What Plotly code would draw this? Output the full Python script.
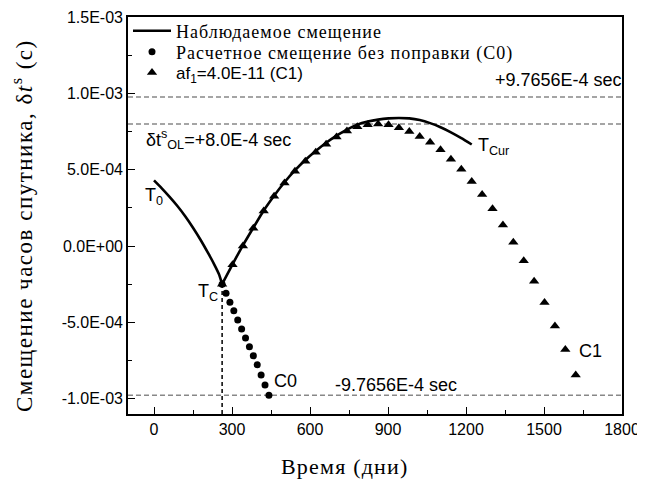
import plotly.graph_objects as go

# ---------------- data (offsets in units of 1e-4 s, time in days) ----------------
UNIT = 1e-4

obs_seg1_days = [0, 30, 60, 90, 120, 150, 180, 210, 230, 250, 262]
obs_seg1_off = [4.30, 3.78, 3.22, 2.62, 1.95, 1.20, 0.38, -0.52, -1.15, -1.85, -2.50]

obs_seg2_days = [262, 302, 342, 382, 422, 462, 502, 542, 582, 622, 662, 702, 742,
                 782, 822, 862, 902, 942, 982, 1022, 1062, 1102, 1142, 1182, 1222]
obs_seg2_off = [-2.50, -1.20, 0.05, 1.20, 2.33, 3.30, 4.18, 4.95, 5.63, 6.22, 6.76,
                7.23, 7.63, 7.95, 8.15, 8.28, 8.36, 8.39, 8.36, 8.25, 8.05, 7.78,
                7.45, 7.07, 6.65]

c0_days = [262, 277, 292, 307, 322, 337, 352, 367, 382, 397, 412, 427, 442]
c0_off = [-2.50, -3.10, -3.68, -4.24, -4.84, -5.43, -6.02, -6.60, -7.19, -7.78,
          -8.45, -9.10, -9.77]

c1_days = [262, 302, 342, 382, 422, 462, 502, 542, 582, 622, 662, 702, 742, 782,
           822, 862, 902, 942, 982, 1022, 1062, 1102, 1142, 1182, 1222, 1262,
           1302, 1342, 1382, 1422, 1462, 1502, 1542, 1582, 1622]
c1_off = [-2.50, -1.23, 0.01, 1.16, 2.29, 3.26, 4.13, 4.89, 5.56, 6.14, 6.66,
          7.14, 7.53, 7.81, 7.95, 7.99, 7.94, 7.74, 7.50, 7.18, 6.79, 6.30, 5.69,
          5.03, 4.22, 3.38, 2.44, 1.38, 0.24, -0.96, -2.30, -3.69, -5.23, -6.78,
          -8.45]

limit_pos = 9.7656e-4
limit_neg = -9.7656e-4
ol_level = 8.0e-4
t_c_day = 262
t_c_off = -2.50

x_tickvals = [0, 300, 600, 900, 1200, 1500, 1800]
x_ticktext = ["0", "300", "600", "900", "1200", "1500", "1800"]
y_tickvals = [-1.0e-3, -5.0e-4, 0.0, 5.0e-4, 1.0e-3, 1.5e-3]
y_ticktext = ["-1.0E-03", "-5.0E-04", "0.0E+00", "5.0E-04", "1.0E-03", "1.5E-03"]

names = ['<span style="letter-spacing:1px">Наблюдаемое смещение</span>',
         '<span style="letter-spacing:1px">Расчетное смещение без поправки (C0)</span>',
         'af<sub>1</sub>=4.0E-11 (C1)']


def sc(v):
    return [a * UNIT for a in v]


SERIF = "Liberation Serif"
SANS = "Arial, Liberation Sans"

# plot area in page pixels (the page body adds an 8px offset)
PL, PT, PR, PB = 128, 17, 622, 414
PW, PH = PR - PL, PB - PT


def px(xp):
    return (xp - PL) / PW


def py(yp):
    return (PB - yp) / PH


fig = go.Figure()
fig.add_trace(go.Scatter(x=obs_seg1_days, y=sc(obs_seg1_off), mode="lines",
                         line=dict(color="black", width=2.6, shape="spline", smoothing=0.6),
                         name=names[0], legendgroup="obs", showlegend=True, legend="legend"))
fig.add_trace(go.Scatter(x=obs_seg2_days, y=sc(obs_seg2_off), mode="lines",
                         line=dict(color="black", width=2.6, shape="spline", smoothing=0.6),
                         name=names[0], legendgroup="obs", showlegend=False, legend="legend"))
fig.add_trace(go.Scatter(x=c0_days, y=sc(c0_off), mode="markers",
                         marker=dict(symbol="circle", size=7, color="black"),
                         name=names[1], legend="legend2"))
fig.add_trace(go.Scatter(x=c1_days, y=sc(c1_off), mode="markers",
                         marker=dict(symbol="triangle-up", size=9, color="black"),
                         name=names[2], legend="legend3"))

# dashed reference levels
for lvl in (limit_pos, ol_level, limit_neg):
    fig.add_shape(type="line", xref="paper", x0=0, x1=1, yref="y", y0=lvl, y1=lvl,
                  line=dict(color="#888888", width=1.5, dash="5px,3px"), layer="below")
fig.add_shape(type="line", xref="x", x0=t_c_day, x1=t_c_day, yref="y", y0=-1.1e-3,
              y1=t_c_off * UNIT, line=dict(color="black", width=1.5, dash="4px,3px"))


def ann(x, y, text, xanchor="left", size=18, family=SANS, xshift=0):
    fig.add_annotation(x=x, y=y, xref="x", yref="y", text=text, showarrow=False,
                       xanchor=xanchor, yanchor="middle", xshift=xshift,
                       font=dict(family=family, size=size, color="black"))


ann(1800, 10.9e-4, "+9.7656E-4 sec", xanchor="right", xshift=2)
ann(-40, 6.95e-4, "δt<sup>s</sup><sub>OL</sub>=+8.0E-4 sec")
ann(-44, 3.25e-4, "T<sub>0</sub>")
ann(163, -3.05e-4, "T<sub>C</sub>")
ann(1240, 6.5e-4, "T<sub>Cur</sub>")
ann(455, -8.85e-4, "C0")
ann(690, -9.1e-4, "-9.7656E-4 sec")
ann(1628, -6.9e-4, "C1")

# axis titles
fig.add_annotation(xref="paper", yref="paper", x=px(345), y=py(466),
                   text='<span style="letter-spacing:1.2px">Время (дни)</span>',
                   showarrow=False, xanchor="center", yanchor="middle",
                   font=dict(family=SERIF, size=22, color="black"))
fig.add_annotation(xref="paper", yref="paper", x=px(22), y=py(226),
                   text='<span style="letter-spacing:1.5px">Смещение часов спутника, '
                        'δ<i>t</i><sup>s</sup> (с)</span>',
                   textangle=-90, showarrow=False, xanchor="center", yanchor="middle",
                   font=dict(family=SERIF, size=23, color="black"))

axis_common = dict(showline=True, linecolor="black", linewidth=1.6, mirror=True,
                   ticks="inside", ticklen=7, tickwidth=1.4, tickcolor="black",
                   showgrid=False, zeroline=False,
                   tickfont=dict(family=SANS, size=16, color="black"))

fig.update_xaxes(range=[-100, 1800], tickmode="array", tickvals=x_tickvals,
                 ticktext=x_ticktext,
                 minor=dict(ticks="inside", ticklen=4, tickwidth=1.2, tickcolor="black",
                            tick0=0, dtick=150),
                 **axis_common)
fig.update_yaxes(range=[-1.1e-3, 1.5e-3], tickmode="array", tickvals=y_tickvals,
                 ticktext=y_ticktext,
                 minor=dict(ticks="inside", ticklen=4, tickwidth=1.2, tickcolor="black",
                            tick0=0, dtick=2.5e-4),
                 **axis_common)

leg_common = dict(x=0, xanchor="left", yanchor="middle", bgcolor="rgba(0,0,0,0)",
                  borderwidth=0, itemwidth=38)
fig.update_layout(
    width=637, height=475,
    margin=dict(l=PL - 8, r=645 - PR, t=PT - 8, b=483 - PB, autoexpand=False),
    paper_bgcolor="white", plot_bgcolor="white",
    showlegend=True,
    legend=dict(y=py(31), font=dict(family=SERIF, size=18, color="black"), **leg_common),
    legend2=dict(y=py(52), font=dict(family=SERIF, size=18, color="black"), **leg_common),
    legend3=dict(y=py(73), font=dict(family=SANS, size=17, color="black"), **leg_common),
)

fig.write_html("out.html")
